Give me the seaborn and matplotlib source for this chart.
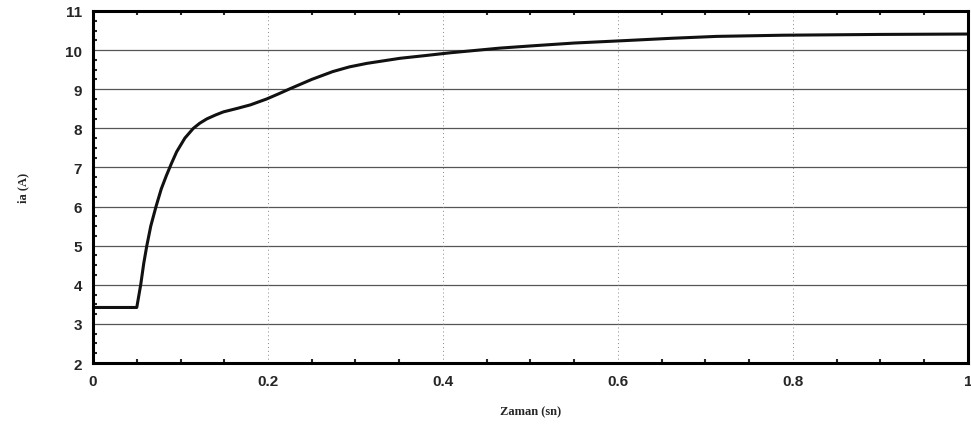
import numpy as np
import pandas as pd
import matplotlib
matplotlib.use("Agg")
import matplotlib.pyplot as plt
import seaborn as sns

# Data
time_s = [0.0, 0.05, 0.0545, 0.058, 0.0615, 0.066, 0.072, 0.078, 0.084, 0.090,
          0.0956, 0.105, 0.1147, 0.122, 0.130, 0.140, 0.149, 0.165, 0.18, 0.1985,
          0.212, 0.225, 0.25, 0.274, 0.293, 0.313, 0.351, 0.38, 0.408, 0.465,
          0.503, 0.55, 0.606, 0.66, 0.713, 0.789, 0.9, 1.0]
current_a = [3.42, 3.42, 4.0, 4.55, 5.0, 5.5, 6.0, 6.45, 6.8, 7.12,
             7.4, 7.75, 8.0, 8.13, 8.24, 8.34, 8.42, 8.51, 8.6, 8.75,
             8.88, 9.01, 9.25, 9.45, 9.57, 9.66, 9.79, 9.86, 9.93, 10.05,
             10.11, 10.18, 10.24, 10.3, 10.35, 10.38, 10.40, 10.41]
x_ticks = [0, 0.2, 0.4, 0.6, 0.8, 1]
x_tick_labels = ["0", "0.2", "0.4", "0.6", "0.8", "1"]
y_ticks = [2, 3, 4, 5, 6, 7, 8, 9, 10, 11]

df = pd.DataFrame({"t": time_s, "ia": current_a})

sns.set_theme(style="white")
fig = plt.figure(figsize=(9.71, 4.27), dpi=100)
ax = fig.add_axes([0.0958, 0.1475, 0.901, 0.8245])

sns.lineplot(data=df, x="t", y="ia", ax=ax, color="#111111", linewidth=2.2)
for line in ax.get_lines():
    line.set_solid_joinstyle("round")

ax.set_xlim(0, 1)
ax.set_ylim(2, 11)
ax.set_xticks(x_ticks)
ax.set_xticklabels(x_tick_labels)
ax.set_yticks(y_ticks)

for y in y_ticks[1:-1]:
    ax.axhline(y, color="#555555", linewidth=0.9, zorder=0)
for x in x_ticks[1:-1]:
    ax.axvline(x, color="#888888", linewidth=0.7, linestyle=(0, (1, 3)), zorder=0)

for s in ax.spines.values():
    s.set_color("black")
    s.set_linewidth(2.2)

ax.tick_params(axis="both", which="major", direction="in", length=0, pad=8)
ax.set_yticks(np.arange(2, 11.01, 0.25), minor=True)
ax.set_xticks(np.arange(0, 1.001, 0.05), minor=True)
ax.tick_params(axis="y", which="minor", direction="in", length=3, width=1.5, left=True, right=False)
ax.tick_params(axis="x", which="minor", direction="in", length=3, width=1.5, top=True, bottom=True)

for lab in ax.get_xticklabels() + ax.get_yticklabels():
    lab.set_fontfamily("Liberation Sans")
    lab.set_fontweight("bold")
    lab.set_fontsize(11)

ax.set_xlabel("Zaman (sn)", fontfamily="Liberation Serif", fontweight="bold", fontsize=9, labelpad=12)
ax.set_ylabel("ia (A)", fontfamily="Liberation Serif", fontweight="bold", fontsize=9, labelpad=26)

fig.savefig("out.png", dpi=100)
